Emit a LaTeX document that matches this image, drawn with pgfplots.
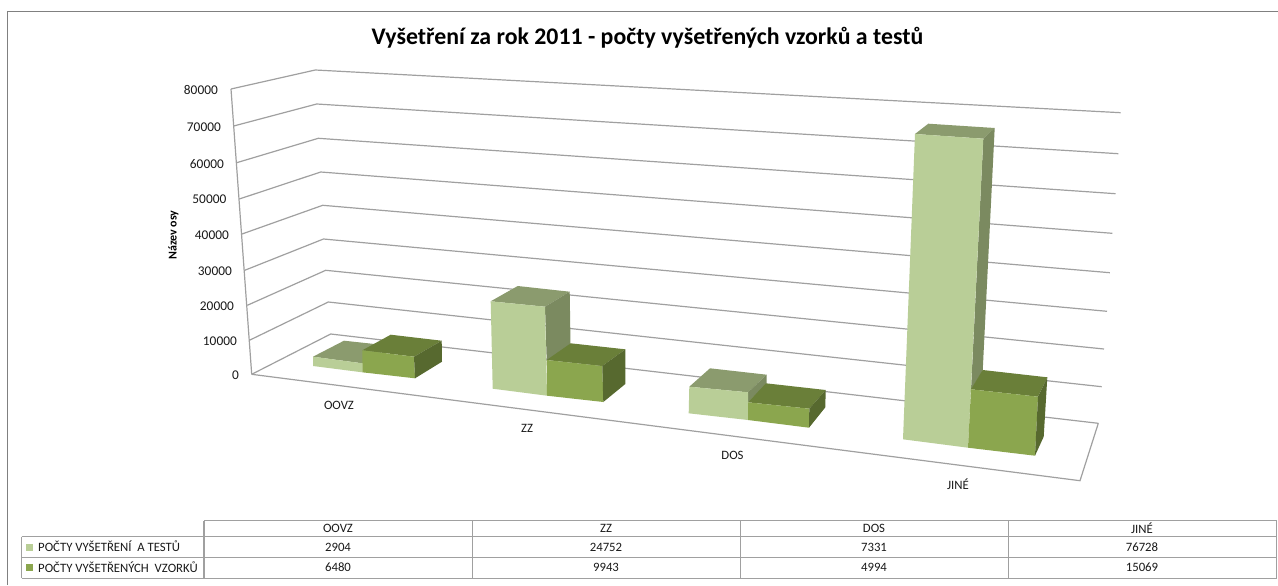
\documentclass[border=0pt]{standalone}
\usepackage{fontspec}
\setmainfont{Carlito}
\usepackage{pgfplots}
\pgfplotsset{compat=1.18}
\definecolor{lf}{HTML}{B9CE97}
\definecolor{lt}{HTML}{8B9B6E}
\definecolor{ls}{HTML}{7B8A60}
\definecolor{df}{HTML}{8BA64E}
\definecolor{dt}{HTML}{6A7F39}
\definecolor{ds}{HTML}{57692F}
\definecolor{gridc}{HTML}{A0A0A0}
\definecolor{tabc}{HTML}{A0A0A0}
\definecolor{txt}{HTML}{1A1A1A}
\newcommand\face[2]{\addplot[fill=#1,draw=none,forget plot] coordinates {#2} -- cycle;}
\newcommand\gl[2]{\addplot[color=gridc,line width=1.2bp,forget plot] coordinates {#2};}
\newcommand\tl[1]{\addplot[color=tabc,line width=1.2bp,forget plot] coordinates {#1};}
\newcommand\tick[3]{\node[anchor=east,text=txt,font=\fontsize{13.4}{14}\selectfont,inner sep=0pt] at (axis cs:#1,#2) {#3};}
\newcommand\cat[3]{\node[text=txt,font=\fontsize{12.8}{13}\selectfont,inner sep=0pt] at (axis cs:#1,#2) {#3};}
\newcommand\cell[3]{\node[text=txt,font=\fontsize{12.8}{13}\selectfont,inner sep=0pt] at (axis cs:#1,#2) {#3};}
\begin{document}
\begin{tikzpicture}
\begin{axis}[
  width=1278bp,height=585bp,scale only axis,
  xmin=0,xmax=1278,ymin=0,ymax=585,y dir=reverse,
  hide axis,no markers,
]
% page
\face{white}{(0,0)(1278,0)(1278,585)(0,585)}
% outer frame
\addplot[color=black!50,line width=1bp,forget plot] coordinates {(7.5,585)(7.5,11.5)(1278,11.5)};
% side wall axis + grid (value, left front, back corner, right end)
\gl{}{(231,89)(251.7,374.3)}
\gl{}{(231,89)(315.3,70)(1120.7,112.7)}
\gl{}{(233.7,126)(316.7,104)(1118.3,153.7)}
\gl{}{(236.7,162.7)(318.3,138.3)(1115.5,193.7)}
\gl{}{(239.3,199)(320.7,172)(1112.3,233.3)}
\gl{}{(242,234)(322.7,205.3)(1109.8,272.7)}
\gl{}{(244.7,270.3)(323.5,239)(1107,311.3)}
\gl{}{(247.3,305.3)(325.7,270.3)(1104,349)}
\gl{}{(250,340)(328.3,302)(1101.7,386.7)}
\gl{}{(251.7,374.3)(330.7,334)(1098.3,423.3)}
\gl{}{(1098.3,423.3)(1080,480.7)(251.7,374.3)}
% OOVZ
\face{lt}{(313,356.7)(344,340.7)(393,346)(362.3,363.3)}
\face{lf}{(313,356.7)(362.3,363.3)(362.3,372.3)(313,366)}
\face{dt}{(362.3,350.3)(390.7,334.7)(441.7,340.7)(414,356.7)}
\face{df}{(362.3,350.3)(414,356.7)(415,378.3)(362.3,372.3)}
\face{ds}{(414,356.7)(441.7,340.7)(442,361.7)(415,378.3)}
% ZZ
\face{lt}{(490.7,301.3)(517.7,286)(569.7,291.7)(545,306.7)}
\face{ls}{(545,306.7)(569.7,291.7)(570.5,344)(546.7,361)}
\face{lf}{(490.7,301.3)(545,306.7)(547,395.7)(492.7,388.7)}
\face{dt}{(546.7,360)(570.7,343.3)(625.3,349.3)(602.3,366)}
\face{df}{(546.7,360)(602.3,366)(603.3,402)(547,395.7)}
\face{ds}{(602.3,366)(625.3,349.3)(625.3,384)(603.3,402)}
% DOS
\face{lt}{(689.3,386.7)(710,368.3)(766.7,374.7)(748,392.3)}
\face{ls}{(748,392.3)(766.7,374.7)(766.7,384)(748,402.3)}
\face{lf}{(689.3,386.7)(748,392.3)(748,420)(688.7,413.3)}
\face{dt}{(748,402.3)(766,383.3)(825.7,390)(809.3,408.7)}
\face{df}{(748,402.3)(809.3,408.7)(809,427.7)(748,420)}
\face{ds}{(809.3,408.7)(825.7,390)(825.3,407.3)(809,427.7)}
% JINE
\face{lt}{(915,134)(928.3,123.7)(994.7,128)(983.3,138.7)}
\face{ls}{(983.3,138.7)(994.7,128)(982.7,371)(971,390)}
\face{lf}{(915,134)(983.3,138.7)(968,447.7)(903,439.3)}
\face{dt}{(971,389.3)(982.7,370)(1047.3,377.3)(1038,396.7)}
\face{df}{(971,389.3)(1038,396.7)(1035,455.7)(968,447.7)}
\face{ds}{(1038,396.7)(1047.3,377.3)(1043.7,436.7)(1035,455.7)}
% table
\tl{(204,520.7)(1276.7,520.7)}
\tl{(21.7,536.7)(1276.7,536.7)}
\tl{(21.7,557.3)(1276.7,557.3)}
\tl{(21.7,578.3)(1276.7,578.3)}
\tl{(21.7,536.7)(21.7,578.3)}
\tl{(204,520.7)(204,578.3)}
\tl{(472.3,520.7)(472.3,578.3)}
\tl{(740.3,520.7)(740.3,578.3)}
\tl{(1008.3,520.7)(1008.3,578.3)}
\tl{(1276.7,520.7)(1276.7,578.3)}
\face{lf}{(26,543.5)(33,543.5)(33,550.5)(26,550.5)}
\face{df}{(26,563.5)(33,563.5)(33,570.5)(26,570.5)}
% texts
\node[font=\fontsize{23.9}{26}\bfseries\selectfont,inner sep=0pt] at (axis cs:647.5,37.5) {Vyšetření za rok 2011 - počty vyšetřených vzorků a testů};
\node[rotate=90,font=\fontsize{12}{13}\bfseries\selectfont,inner sep=0pt] at (axis cs:173.5,235) {Název osy};
\tick{218}{90}{80000}
\tick{221}{127}{70000}
\tick{224}{164}{60000}
\tick{226.5}{199.5}{50000}
\tick{229}{235.5}{40000}
\tick{232}{271.5}{30000}
\tick{234}{306.5}{20000}
\tick{237}{341.5}{10000}
\tick{239}{375}{0}
\cat{339}{405}{OOVZ}
\cat{527}{428}{ZZ}
\cat{732.5}{455.5}{DOS}
\cat{958}{484}{JINÉ}
\cell{338}{528.5}{OOVZ}
\cell{606}{528.5}{ZZ}
\cell{874}{528.5}{DOS}
\cell{1142}{528.5}{JINÉ}
\cell{338}{547}{2904}
\cell{606}{547}{24752}
\cell{874}{547}{7331}
\cell{1142}{547}{76728}
\cell{338}{567}{6480}
\cell{606}{567}{9943}
\cell{874}{567}{4994}
\cell{1142}{567}{15069}
\node[anchor=west,text=txt,font=\fontsize{12.8}{13}\selectfont,inner sep=0pt] at (axis cs:38,546) {POČTY VYŠETŘENÍ\ \ A TESTŮ};
\node[anchor=west,text=txt,font=\fontsize{12.8}{13}\selectfont,inner sep=0pt] at (axis cs:38,567) {POČTY VYŠETŘENÝCH\ \ VZORKŮ};
\end{axis}
\end{tikzpicture}
\end{document}
